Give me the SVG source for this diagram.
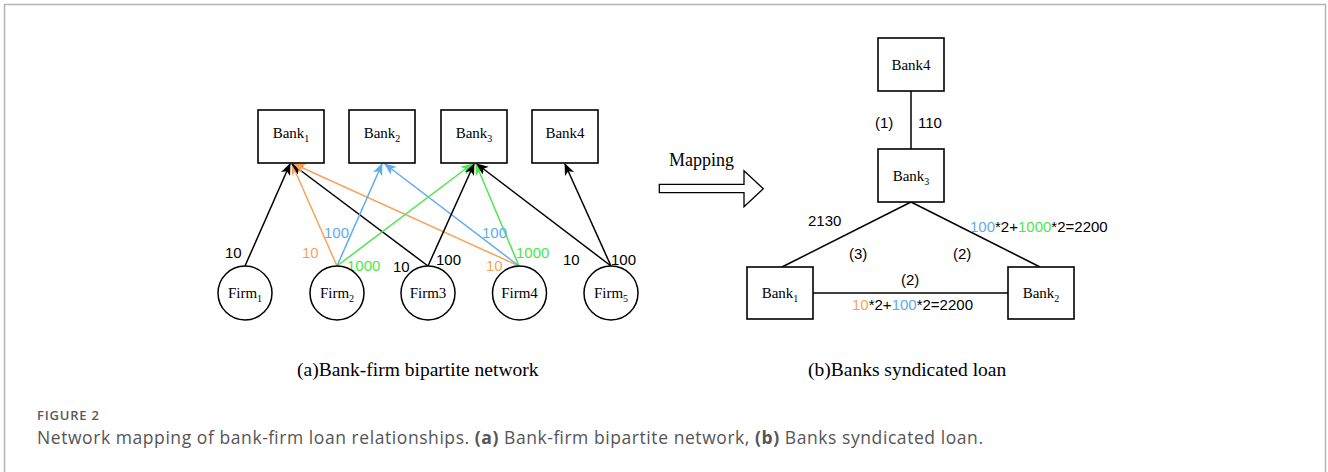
<svg xmlns="http://www.w3.org/2000/svg" width="1328" height="472" viewBox="0 0 1328 472">
<defs>
<style>
.box{fill:#fff;stroke:#000;stroke-width:1.6}
.circ{fill:#fff;stroke:#000;stroke-width:1.5}
.lbl{font-family:"Liberation Serif","Times New Roman",serif;font-size:15px;fill:#000}
.num{font-family:"Liberation Sans",Arial,sans-serif;font-size:15px;fill:#000}
.e{fill:none;stroke-width:1.5}
.k{stroke:#000}.o{stroke:#F7A35C}.b{stroke:#5EACF0}.g{stroke:#4CE64C}
.tk{fill:#000}.to{fill:#F7A35C}.tb{fill:#5EACF0}.tg{fill:#4CE64C}
.cap{font-family:"Liberation Serif","Times New Roman",serif;font-size:19.5px;fill:#000}
</style>
<marker id="ak" viewBox="0 0 12 10" refX="11" refY="5" markerWidth="12" markerHeight="10" markerUnits="userSpaceOnUse" orient="auto"><path d="M0,0 L12,5 L0,10 L3,5 Z" fill="#000"/></marker>
<marker id="ao" viewBox="0 0 12 10" refX="11" refY="5" markerWidth="12" markerHeight="10" markerUnits="userSpaceOnUse" orient="auto"><path d="M0,0 L12,5 L0,10 L3,5 Z" fill="#F7A35C"/></marker>
<marker id="ab" viewBox="0 0 12 10" refX="11" refY="5" markerWidth="12" markerHeight="10" markerUnits="userSpaceOnUse" orient="auto"><path d="M0,0 L12,5 L0,10 L3,5 Z" fill="#5EACF0"/></marker>
<marker id="ag" viewBox="0 0 12 10" refX="11" refY="5" markerWidth="12" markerHeight="10" markerUnits="userSpaceOnUse" orient="auto"><path d="M0,0 L12,5 L0,10 L3,5 Z" fill="#4CE64C"/></marker>
</defs>
<rect x="0" y="0" width="1328" height="472" fill="#fff"/>
<path d="M4.5,480 V4.5 H1325.5 V480" fill="none" stroke="#b4b4b4" stroke-width="1.5"/>

<!-- connectors -->
<g id="connectors">
<line class="e k" x1="245" y1="266" x2="290" y2="164" marker-end="url(#ak)"/>
<line class="e o" x1="337" y1="266" x2="292" y2="164" marker-end="url(#ao)"/>
<line class="e k" x1="428" y1="266" x2="292" y2="164" marker-end="url(#ak)"/>
<line class="e o" x1="519" y1="266" x2="294" y2="164" marker-end="url(#ao)"/>
<line class="e b" x1="337" y1="266" x2="382" y2="164" marker-end="url(#ab)"/>
<line class="e b" x1="519" y1="266" x2="385" y2="164" marker-end="url(#ab)"/>
<line class="e g" x1="337" y1="266" x2="472" y2="164" marker-end="url(#ag)"/>
<line class="e k" x1="428" y1="266" x2="474" y2="164" marker-end="url(#ak)"/>
<line class="e g" x1="519" y1="266" x2="476" y2="164" marker-end="url(#ag)"/>
<line class="e k" x1="611" y1="266" x2="477" y2="164" marker-end="url(#ak)"/>
<line class="e k" x1="611" y1="266" x2="565" y2="164" marker-end="url(#ak)"/>
<line class="e k" x1="911" y1="91" x2="911" y2="149"/>
<line class="e k" x1="911" y1="202" x2="782" y2="267"/>
<line class="e k" x1="911" y1="202" x2="1040" y2="267"/>
<line class="e k" x1="813" y1="293" x2="1008" y2="293"/>
<polygon points="659.3,184.3 744,184.3 744,170.7 763.3,188.7 744,206.7 744,192.7 659.3,192.7" fill="#fff" stroke="#000" stroke-width="1.3"/>
</g>

<!-- edge labels -->
<g id="edge-labels" class="num">
<text x="225" y="258" class="tk">10</text>
<text x="302" y="258" class="to">10</text>
<text x="324" y="238" class="tb">100</text>
<text x="347" y="271" class="tg">1000</text>
<text x="393" y="272" class="tk">10</text>
<text x="436" y="265" class="tk">100</text>
<text x="482" y="238" class="tb">100</text>
<text x="486" y="271" class="to">10</text>
<text x="516" y="258" class="tg">1000</text>
<text x="563" y="265" class="tk">10</text>
<text x="611" y="265" class="tk">100</text>
<text x="875" y="128">(1)</text>
<text x="918" y="128">110</text>
<text x="808" y="226">2130</text>
<text x="849" y="259">(3)</text>
<text x="953" y="259">(2)</text>
<text x="970" y="232"><tspan class="tb">100</tspan>*2+<tspan class="tg">1000</tspan>*2=2200</text>
<text x="901" y="285">(2)</text>
<text x="852" y="310"><tspan class="to">10</tspan>*2+<tspan class="tb">100</tspan>*2=2200</text>
</g>

<!-- left panel banks -->
<g id="L-bank1"><rect class="box" x="258" y="110" width="66" height="53"/><text class="lbl" x="291" y="138" text-anchor="middle">Bank<tspan font-size="10" dy="4">1</tspan></text></g>
<g id="L-bank2"><rect class="box" x="349" y="110" width="66" height="53"/><text class="lbl" x="382" y="138" text-anchor="middle">Bank<tspan font-size="10" dy="4">2</tspan></text></g>
<g id="L-bank3"><rect class="box" x="441" y="110" width="66" height="53"/><text class="lbl" x="474" y="138" text-anchor="middle">Bank<tspan font-size="10" dy="4">3</tspan></text></g>
<g id="L-bank4"><rect class="box" x="532" y="110" width="66" height="53"/><text class="lbl" x="565" y="138" text-anchor="middle">Bank4</text></g>

<!-- firms -->
<g id="firm1"><circle class="circ" cx="245" cy="293" r="27"/><text class="lbl" x="245" y="298" text-anchor="middle">Firm<tspan font-size="10" dy="4">1</tspan></text></g>
<g id="firm2"><circle class="circ" cx="337" cy="293" r="27"/><text class="lbl" x="337" y="298" text-anchor="middle">Firm<tspan font-size="10" dy="4">2</tspan></text></g>
<g id="firm3"><circle class="circ" cx="428" cy="293" r="27"/><text class="lbl" x="428" y="298" text-anchor="middle">Firm3</text></g>
<g id="firm4"><circle class="circ" cx="519.5" cy="293" r="27"/><text class="lbl" x="519.5" y="298" text-anchor="middle">Firm4</text></g>
<g id="firm5"><circle class="circ" cx="611" cy="293" r="27"/><text class="lbl" x="611" y="298" text-anchor="middle">Firm<tspan font-size="10" dy="4">5</tspan></text></g>

<!-- right panel banks -->
<g id="R-bank4"><rect class="box" x="878" y="38" width="66" height="53"/><text class="lbl" x="911" y="70" text-anchor="middle">Bank4</text></g>
<g id="R-bank3"><rect class="box" x="878" y="149" width="66" height="53"/><text class="lbl" x="911" y="181" text-anchor="middle">Bank<tspan font-size="10" dy="4">3</tspan></text></g>
<g id="R-bank1"><rect class="box" x="747" y="267" width="66" height="52"/><text class="lbl" x="780" y="298" text-anchor="middle">Bank<tspan font-size="10" dy="4">1</tspan></text></g>
<g id="R-bank2"><rect class="box" x="1008" y="267" width="66" height="52"/><text class="lbl" x="1041" y="298" text-anchor="middle">Bank<tspan font-size="10" dy="4">2</tspan></text></g>

<g id="mapping"><text x="669" y="166" font-family="Liberation Serif,Times New Roman,serif" font-size="18" fill="#000">Mapping</text></g>

<g id="captions">
<text class="cap" x="297" y="376">(a)Bank-firm bipartite network</text>
<text class="cap" x="808" y="376">(b)Banks syndicated loan</text>
<text x="37" y="420" font-family="Open Sans,Noto Sans,sans-serif" font-size="13" font-weight="600" fill="#5a5a5a" textLength="62" lengthAdjust="spacing">FIGURE 2</text>
<text x="37" y="444" font-family="Open Sans,Noto Sans,sans-serif" font-size="17.5" fill="#555" textLength="946" lengthAdjust="spacing">Network mapping of bank-firm loan relationships. <tspan font-weight="700">(a)</tspan> Bank-firm bipartite network, <tspan font-weight="700">(b)</tspan> Banks syndicated loan.</text>
</g>
</svg>
